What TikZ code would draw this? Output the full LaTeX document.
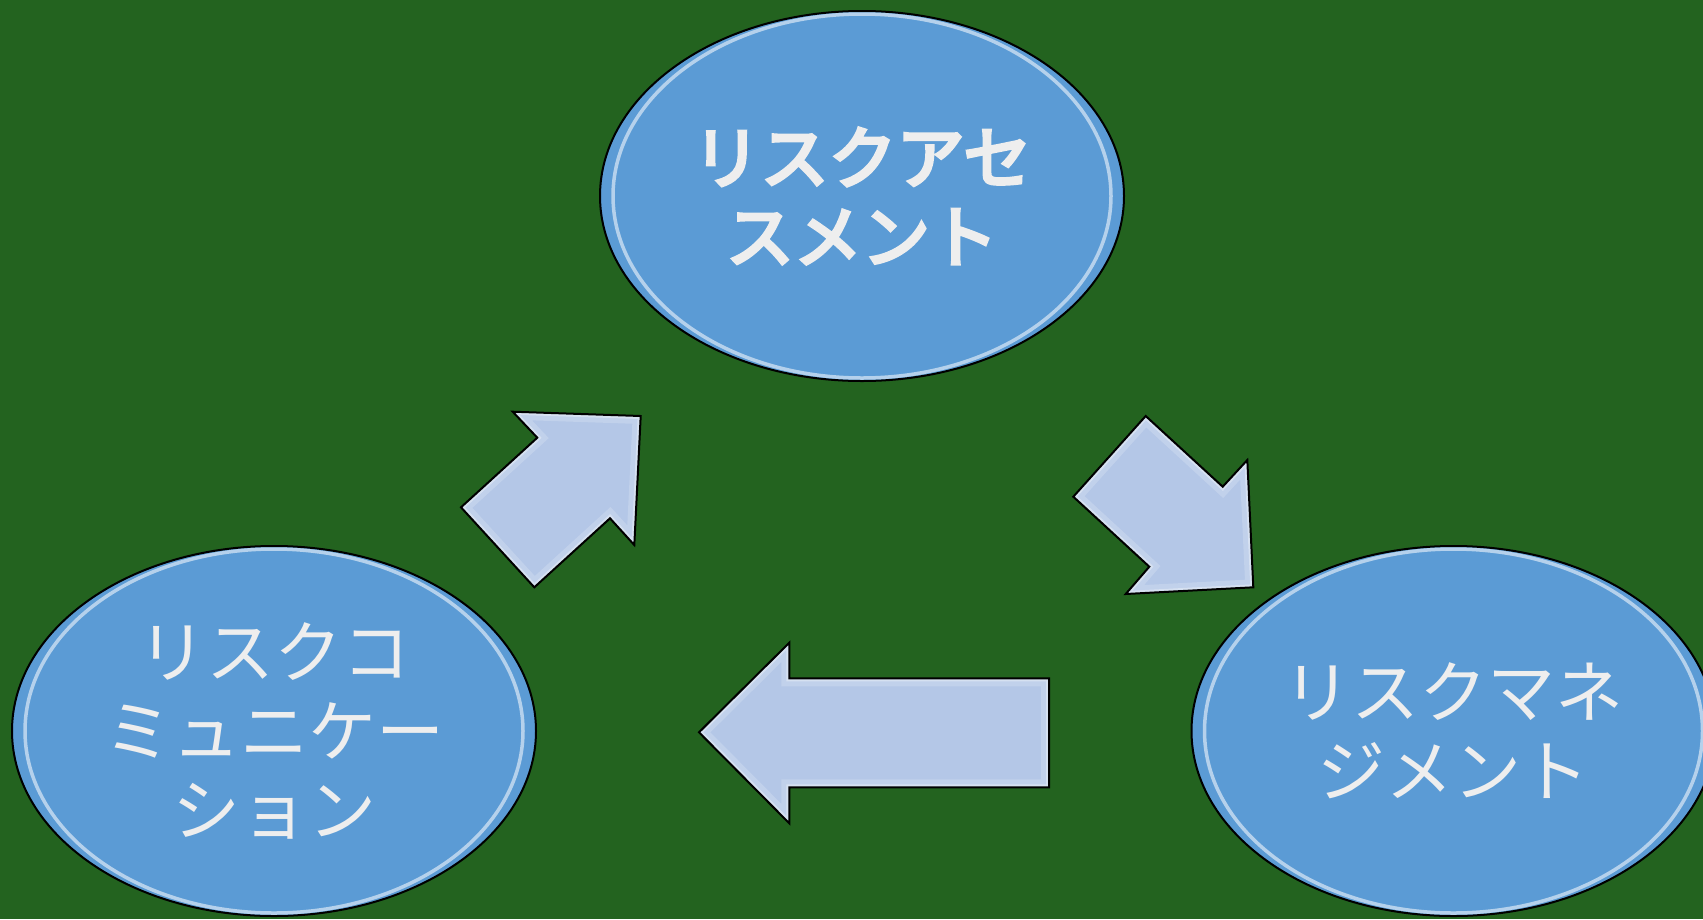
\documentclass[tikz,border=0pt]{standalone}
\usepackage{fontspec}
\newfontfamily\jp{Noto Sans CJK JP}
\newfontfamily\jpheavy[FakeBold=5]{Noto Sans CJK JP}
\usetikzlibrary{shapes.geometric}
\definecolor{bg}{RGB}{35,99,31}
\definecolor{ellfill}{RGB}{91,155,213}
\definecolor{arrfill}{RGB}{180,199,231}
\definecolor{txt}{RGB}{238,238,238}
\newcommand\arrUR{(512.7,411.7) -- (640.7,416) -- (634.3,545) -- (610,518.3) -- (534.3,587.3) -- (461,507.3) -- (537.3,437.7) -- cycle}
\newcommand\arrDR{(1145.7,416) -- (1222.7,486.7) -- (1247.3,460) -- (1253.3,587.3) -- (1125.7,594) -- (1149.3,566.7) -- (1073.3,496.7) -- cycle}
\newcommand\arrL{(699,732.3) -- (789.3,642.7) -- (789.3,678.3) -- (1049,678.3) -- (1049,787.3) -- (789.3,787.3) -- (789.3,823.3) -- cycle}
\begin{document}
\begin{tikzpicture}[x=1pt,y=-1pt,
  bubble/.style={ellipse, draw=black, line width=2pt, fill=ellfill,
    minimum width=524pt, minimum height=370pt, inner sep=0pt,
    text=txt, align=center, font=\jp\fontsize{68}{79}\selectfont},
  ring/.style={draw=white, opacity=0.55, line width=3.5pt},
  arrowbody/.style={fill=arrfill},
  arrowedge/.style={draw=black, line width=2pt, line join=miter},
  glowwide/.style={draw=white, opacity=0.18, line width=16pt},
  glownarrow/.style={draw=white, opacity=0.35, line width=6pt}
]
\useasboundingbox (0,0) rectangle (1703,919);
\fill[bg] (0,0) rectangle (1703,919);
\begin{scope}
\clip (0,0) rectangle (1703,919);
\node[bubble, font=\jpheavy\fontsize{68}{79}\selectfont] (assess) at (862,196) {リスクアセ\\スメント};
\node[bubble] (comm) at (274,731) {リスクコ\\ミュニケー\\ション};
\node[bubble] (manage) at (1453.5,731) {リスクマネ\\ジメント};
\foreach \n in {assess,comm,manage}{
  \draw[ring] (\n.center) ellipse [x radius=249, y radius=182];
}
\end{scope}
% block arrows
\foreach \p in {\arrUR,\arrDR,\arrL}{
  \fill[arrowbody] \p;
  \begin{scope}
    \clip \p;
    \draw[glowwide] \p;
    \draw[glownarrow] \p;
  \end{scope}
  \draw[arrowedge] \p;
}
\end{tikzpicture}
\end{document}
